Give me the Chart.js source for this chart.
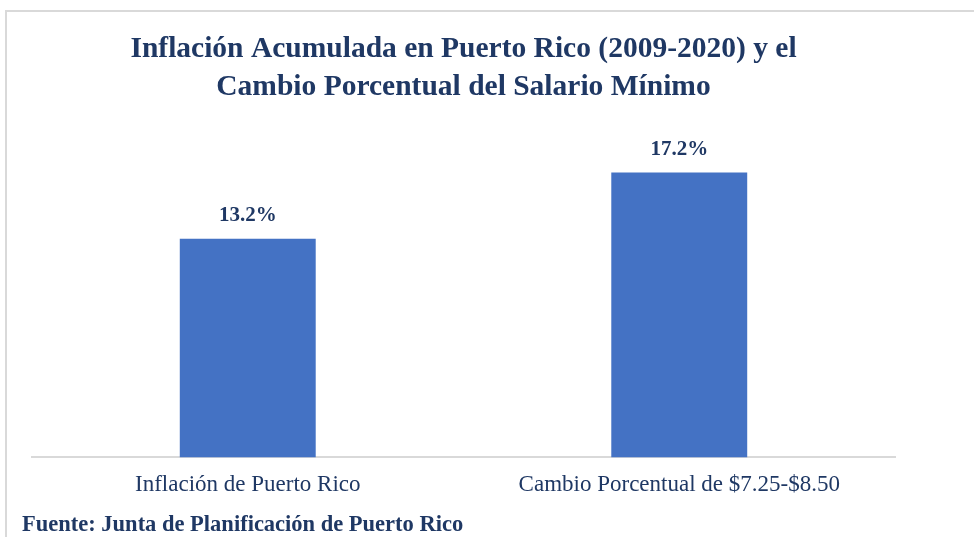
<!DOCTYPE html>
<html>
<head>
<meta charset="utf-8">
<script src="https://cdn.jsdelivr.net/npm/chart.js@4.4.1/dist/chart.umd.min.js"></script>
<style>
  html, body { margin: 0; padding: 0; background: #ffffff; }
  #wrap { position: relative; width: 974px; height: 537px; }
  #frame {
    position: absolute; left: 5px; top: 10px; width: 980px; height: 540px;
    border-top: 2px solid #d9d9d9; border-left: 2px solid #d9d9d9;
  }
  #grafico { position: absolute; left: 0; top: 0; }
</style>
</head>
<body>
<div id="wrap">
  <div id="frame"></div>
  <canvas id="grafico" width="974" height="537"></canvas>
</div>
<script>
// Datos del gráfico
const categorias = ["Inflación de Puerto Rico", "Cambio Porcentual de $7.25-$8.50"];
const valores = [13.2, 17.2];
const titulo = ["Inflación Acumulada en Puerto Rico (2009-2020) y el", "Cambio Porcentual del Salario Mínimo"];
const fuente = "Fuente: Junta de Planificación de Puerto Rico";

// Colores
const colores = {
  barra: "#4472c4",
  texto: "#1f3864",
  eje: "#d9d9d9",
};

const serif = "'Liberation Serif', 'DejaVu Serif', serif";

// Etiquetas de valor encima de cada barra + fuente abajo
const etiquetasPlugin = {
  id: "etiquetas",
  afterDatasetsDraw(chart) {
    const ctx = chart.ctx;
    const meta = chart.getDatasetMeta(0);
    ctx.save();
    ctx.fillStyle = colores.texto;
    ctx.font = "bold 21px " + serif;
    ctx.textAlign = "center";
    ctx.textBaseline = "middle";
    meta.data.forEach((bar, i) => {
      ctx.fillText(valores[i].toFixed(1) + "%", bar.x, bar.y - 23);
    });
    ctx.font = "bold 22.5px " + serif;
    ctx.textAlign = "left";
    ctx.fillText(fuente, 22, 525);
    ctx.restore();
  },
};

const ctx = document.getElementById("grafico").getContext("2d");
new Chart(ctx, {
  type: "bar",
  data: {
    labels: categorias,
    datasets: [{
      data: valores,
      backgroundColor: colores.barra,
      categoryPercentage: 1,
      barPercentage: 0.315,
    }],
  },
  options: {
    responsive: false,
    animation: false,
    layout: { padding: { left: 32, right: 79, top: 0, bottom: 24 } },
    scales: {
      x: {
        grid: { display: false, drawTicks: false },
        border: { display: true, color: colores.eje, width: 2 },
        ticks: { color: colores.texto, font: { family: serif, size: 23 }, padding: 14 },
      },
      y: { display: false, min: 0, max: 20 },
    },
    plugins: {
      legend: { display: false },
      tooltip: { enabled: false },
      title: {
        display: true,
        text: titulo,
        color: colores.texto,
        font: { family: serif, size: 29.5, weight: "bold", lineHeight: 1.29 },
        padding: { top: 30, bottom: 20 },
      },
    },
  },
  plugins: [etiquetasPlugin],
});
</script>
</body>
</html>
